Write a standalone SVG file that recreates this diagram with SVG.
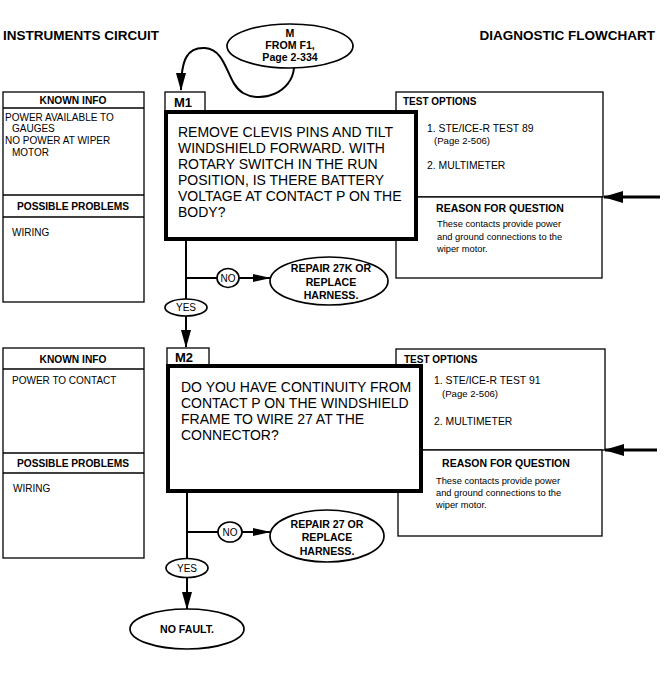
<svg xmlns="http://www.w3.org/2000/svg" width="672" height="674" viewBox="0 0 672 674">
<defs>
<style>
text{font-family:"Liberation Sans",Arial,Helvetica,sans-serif;fill:#000}
.title{font-size:13.5px;font-weight:bold}
.box{fill:#fff;stroke:#000;stroke-width:1.3}
.sep{stroke:#000;stroke-width:1.3}
.thick{fill:#fff;stroke:#000;stroke-width:4}
.hdr{font-size:10px;font-weight:bold}
.hc{font-size:10.2px;font-weight:bold;text-anchor:middle}
.rq{font-size:10.5px;font-weight:bold;text-anchor:middle}
.body{font-size:10px}
.q{font-size:14px}
.small{font-size:9.3px}
.opt{font-size:10.4px}
.pg{font-size:9.6px}
.tab{font-size:13px;font-weight:bold}
.oval{fill:#fff;stroke:#000;stroke-width:1.7}
.ob{font-size:10.6px;font-weight:bold;text-anchor:middle}
.lbl{font-size:10px;text-anchor:middle}
.flow{fill:none;stroke:#000;stroke-width:2}
.side{fill:none;stroke:#000;stroke-width:3.2}
</style>
<marker id="ah" viewBox="0 0 18 10" refX="17" refY="5" markerWidth="18" markerHeight="10" orient="auto" markerUnits="userSpaceOnUse"><path d="M0,0 L18,5 L0,10 z" fill="#000"/></marker>
<marker id="ahs" viewBox="0 0 18 8" refX="17" refY="4" markerWidth="18" markerHeight="8" orient="auto" markerUnits="userSpaceOnUse"><path d="M0,0 L18,4 L0,8 z" fill="#000"/></marker>
<marker id="ahb" viewBox="0 0 20 12" refX="19" refY="6" markerWidth="20" markerHeight="12" orient="auto" markerUnits="userSpaceOnUse"><path d="M0,0 L20,6 L0,12 z" fill="#000"/></marker>
</defs>
<rect width="672" height="674" fill="#fff"/>

<g id="titles">
<text class="title" x="3" y="40">INSTRUMENTS CIRCUIT</text>
<text class="title" x="655" y="40" text-anchor="end">DIAGNOSTIC FLOWCHART</text>
</g>

<g id="connectors">
<path class="flow" d="M294,68 C292,92 262,104 243,93 C226,83 228,50 205,48 C188,47 181,58 181,90" marker-end="url(#ah)"/>
<line class="flow" x1="186" y1="239" x2="186" y2="299"/>
<line class="flow" x1="186" y1="278" x2="217" y2="278"/>
<line class="flow" x1="239" y1="278" x2="270" y2="278" marker-end="url(#ahs)"/>
<line class="flow" x1="186" y1="316" x2="186" y2="347" marker-end="url(#ah)"/>
<line class="side" x1="660" y1="197" x2="604" y2="197" marker-end="url(#ahb)"/>
<line class="flow" x1="187" y1="491" x2="187" y2="558"/>
<line class="flow" x1="187" y1="532" x2="218" y2="532"/>
<line class="flow" x1="242" y1="532" x2="270" y2="532" marker-end="url(#ahs)"/>
<line class="flow" x1="187" y1="578" x2="187" y2="609" marker-end="url(#ah)"/>
<line class="side" x1="657" y1="450" x2="605" y2="450" marker-end="url(#ahb)"/>
</g>

<g id="start-M">
<ellipse class="oval" cx="290" cy="46" rx="63" ry="22"/>
<text class="ob" x="290" y="37">M</text>
<text class="ob" x="290" y="49">FROM F1,</text>
<text class="ob" x="290" y="61">Page 2-334</text>
</g>

<g id="known-M1">
<rect class="box" x="3" y="92" width="141" height="210"/>
<line class="sep" x1="3" y1="108" x2="144" y2="108"/>
<line class="sep" x1="3" y1="195" x2="144" y2="195"/>
<line class="sep" x1="3" y1="217" x2="144" y2="217"/>
<text class="hc" x="73" y="104">KNOWN INFO</text>
<text class="body" x="5" y="121">POWER AVAILABLE TO</text>
<text class="body" x="12" y="132">GAUGES</text>
<text class="body" x="5" y="144">NO POWER AT WIPER</text>
<text class="body" x="12" y="156">MOTOR</text>
<text class="hc" x="73" y="210">POSSIBLE PROBLEMS</text>
<text class="body" x="12" y="236">WIRING</text>
</g>

<g id="test-M1">
<rect class="box" x="396" y="92" width="207" height="105"/>
<text class="hdr" x="403" y="105">TEST OPTIONS</text>
<text class="opt" x="427" y="132">1. STE/ICE-R TEST 89</text>
<text class="pg" x="434" y="144">(Page 2-506)</text>
<text class="opt" x="427" y="169">2. MULTIMETER</text>
</g>

<g id="reason-M1">
<rect class="box" x="396" y="197" width="206" height="81"/>
<text class="rq" x="500" y="212">REASON FOR QUESTION</text>
<text class="small" x="437" y="227">These contacts provide power</text>
<text class="small" x="437" y="240">and ground connections to the</text>
<text class="small" x="437" y="252">wiper motor.</text>
</g>

<g id="M1">
<rect class="box" x="165" y="92" width="40" height="20"/>
<text class="tab" x="174" y="107">M1</text>
<rect class="thick" x="166" y="112" width="250" height="127"/>
<text class="q" x="178" y="137">REMOVE CLEVIS PINS AND TILT</text>
<text class="q" x="178" y="153">WINDSHIELD FORWARD. WITH</text>
<text class="q" x="178" y="169">ROTARY SWITCH IN THE RUN</text>
<text class="q" x="178" y="185">POSITION, IS THERE BATTERY</text>
<text class="q" x="178" y="201">VOLTAGE AT CONTACT P ON THE</text>
<text class="q" x="178" y="217">BODY?</text>
</g>

<g id="no-M1">
<ellipse class="oval" cx="228" cy="278" rx="11" ry="9.5"/>
<text class="lbl" x="228" y="281.5">NO</text>
</g>
<g id="repair-M1">
<ellipse class="oval" cx="329" cy="281" rx="59" ry="24"/>
<text class="ob" x="331" y="272">REPAIR 27K OR</text>
<text class="ob" x="331" y="286">REPLACE</text>
<text class="ob" x="331" y="299">HARNESS.</text>
</g>
<g id="yes-M1">
<ellipse class="oval" cx="186" cy="307.5" rx="21" ry="8.5"/>
<text class="lbl" x="186" y="311">YES</text>
</g>

<g id="known-M2">
<rect class="box" x="3" y="348" width="141" height="210"/>
<line class="sep" x1="3" y1="369" x2="144" y2="369"/>
<line class="sep" x1="3" y1="453" x2="144" y2="453"/>
<line class="sep" x1="3" y1="473" x2="144" y2="473"/>
<text class="hc" x="73" y="362.5">KNOWN INFO</text>
<text class="body" x="12" y="384">POWER TO CONTACT</text>
<text class="hc" x="73" y="466.5">POSSIBLE PROBLEMS</text>
<text class="body" x="13" y="492">WIRING</text>
</g>

<g id="test-M2">
<rect class="box" x="396" y="349" width="209" height="101"/>
<text class="hdr" x="404" y="363">TEST OPTIONS</text>
<text class="opt" x="434" y="384">1. STE/ICE-R TEST 91</text>
<text class="pg" x="442" y="397">(Page 2-506)</text>
<text class="opt" x="434" y="425">2. MULTIMETER</text>
</g>

<g id="reason-M2">
<rect class="box" x="398" y="450" width="204" height="86"/>
<text class="rq" x="506" y="467">REASON FOR QUESTION</text>
<text class="small" x="436" y="484">These contacts provide power</text>
<text class="small" x="436" y="496">and ground connections to the</text>
<text class="small" x="436" y="508">wiper motor.</text>
</g>

<g id="M2">
<rect class="box" x="167" y="348" width="42" height="18"/>
<text class="tab" x="175" y="362">M2</text>
<rect class="thick" x="168" y="366" width="253" height="125"/>
<text class="q" x="181" y="392">DO YOU HAVE CONTINUITY FROM</text>
<text class="q" x="181" y="408">CONTACT P ON THE WINDSHIELD</text>
<text class="q" x="181" y="424">FRAME TO WIRE 27 AT THE</text>
<text class="q" x="181" y="440">CONNECTOR?</text>
</g>

<g id="no-M2">
<ellipse class="oval" cx="230" cy="532" rx="12" ry="10"/>
<text class="lbl" x="230" y="535.5">NO</text>
</g>
<g id="repair-M2">
<ellipse class="oval" cx="327" cy="536" rx="57" ry="26"/>
<text class="ob" x="327" y="528">REPAIR 27 OR</text>
<text class="ob" x="327" y="541">REPLACE</text>
<text class="ob" x="327" y="555">HARNESS.</text>
</g>
<g id="yes-M2">
<ellipse class="oval" cx="187" cy="568" rx="21" ry="9.5"/>
<text class="lbl" x="187" y="571.5">YES</text>
</g>
<g id="no-fault">
<ellipse class="oval" cx="187" cy="629" rx="57" ry="20"/>
<text class="ob" x="187" y="632.5">NO FAULT.</text>
</g>
</svg>
